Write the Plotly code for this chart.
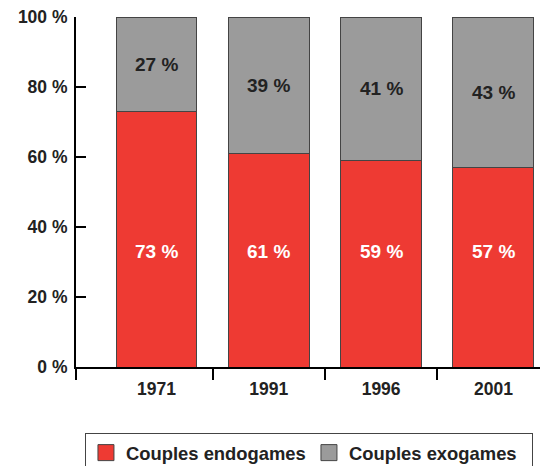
import plotly.graph_objects as go

years = ["1971", "1991", "1996", "2001"]
endogames = [73, 61, 59, 57]
exogames = [27, 39, 41, 43]
ytick_vals = [0, 20, 40, 60, 80, 100]
ytick_text = ["0 %", "20 %", "40 %", "60 %", "80 %", "100 %"]
series_names = ["Couples endogames", "Couples exogames"]

RED = "#EE3A33"
GRAY = "#9B9B9B"
EDGE = "#444"
FONT = "Liberation Sans, Arial, sans-serif"
xs = list(range(len(years)))
BW = 0.72

fig = go.Figure()
fig.add_trace(go.Bar(x=xs, y=endogames, name=series_names[0], showlegend=False,
                     marker=dict(color=RED, line=dict(color=EDGE, width=1)), width=BW))
fig.add_trace(go.Bar(x=xs, y=exogames, name=series_names[1], showlegend=False,
                     marker=dict(color=GRAY, line=dict(color=EDGE, width=1)), width=BW))
# legend entries with larger square swatches
for nm, col in zip(series_names, [RED, GRAY]):
    fig.add_trace(go.Scatter(x=[None], y=[None], mode="markers", name=f"<b>{nm}</b>",
                             marker=dict(symbol="square", size=16, color=col, line=dict(color=EDGE, width=1))))

for i, (e, x) in enumerate(zip(endogames, exogames)):
    fig.add_annotation(x=i, y=33, text=f"<b>{e} %</b>", showarrow=False, font=dict(family=FONT, size=19, color="white"))
    fig.add_annotation(x=i, y=e + x / 2, text=f"<b>{x} %</b>", showarrow=False, font=dict(family=FONT, size=19, color="#222"))

xr = [-0.717, 3.486]
fig.update_layout(
    barmode="stack",
    width=540, height=458,
    margin=dict(l=68, r=0, t=9, b=99, autoexpand=False),
    plot_bgcolor="white", paper_bgcolor="white",
    font=dict(family=FONT, size=17.5, color="#222"),
    showlegend=True,
    legend=dict(orientation="h", x=0.019, xanchor="left", y=-0.189, yanchor="top",
                bordercolor="#444", borderwidth=1, font=dict(size=18.4, color="#222"),
                traceorder="normal", entrywidth=178, entrywidthmode="pixels"),
    xaxis=dict(range=xr, tickvals=xs, ticktext=[f"<b>{y}</b>" for y in years],
               ticks="outside", ticklen=5, tickcolor="rgba(0,0,0,0)", automargin=False,
               showline=True, linecolor="black", linewidth=2, showgrid=False, zeroline=False),
    xaxis2=dict(range=xr, overlaying="x", anchor="y", side="bottom", automargin=False,
                tickvals=[xr[0], 0.5, 1.5, 2.5], ticks="outside", ticklen=12, tickwidth=2,
                tickcolor="black", showticklabels=False, showgrid=False, zeroline=False, showline=False),
    yaxis=dict(range=[0, 100], tickvals=ytick_vals, ticktext=[f"<b>{t}</b>" for t in ytick_text],
               ticks="inside", ticklen=10, tickwidth=2, tickcolor="black", automargin=False,
               ticklabeloverflow="allow", ticklabelstandoff=3,
               showline=True, linecolor="black", linewidth=2, showgrid=False, zeroline=False),
)
fig.add_trace(go.Scatter(x=[None], y=[None], xaxis="x2", showlegend=False, hoverinfo="skip"))
fig.write_html("out.html")
